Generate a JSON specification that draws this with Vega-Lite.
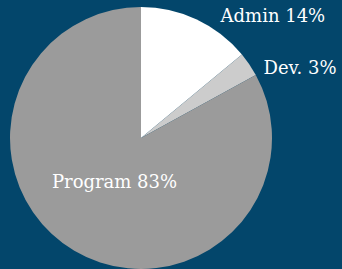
{
  "$schema": "https://vega.github.io/schema/vega-lite/v6.json",
  "width": 282,
  "height": 276,
  "autosize": {"type": "none"},
  "padding": {"left": 0, "top": 0, "right": 60, "bottom": 0},
  "background": "#03466b",
  "config": {"view": {"stroke": null}},
  "data": {
    "values": [
      {"category": "Admin", "value": 14, "label": "Admin 14%"},
      {"category": "Dev.", "value": 3, "label": "Dev. 3%"},
      {"category": "Program", "value": 83, "label": "Program 83%"}
    ]
  },
  "encoding": {
    "theta": {"field": "value", "type": "quantitative", "stack": true},
    "color": {
      "field": "category",
      "type": "nominal",
      "scale": {"domain": ["Admin", "Dev.", "Program"], "range": ["#ffffff", "#cccccc", "#9b9b9b"]},
      "legend": null
    }
  },
  "layer": [
    {"mark": {"type": "arc", "outerRadius": 131}},
    {
      "mark": {"type": "text", "radius": 150, "dx": 68, "dy": 15, "font": "DejaVu Serif", "fontSize": 18, "baseline": "middle", "fill": "#ffffff"},
      "encoding": {
        "color": {"value": "#ffffff"},
        "text": {"condition": {"test": "datum.category === 'Admin'", "field": "label"}, "value": ""}
      }
    },
    {
      "mark": {"type": "text", "radius": 150, "dx": 35, "dy": 15, "font": "DejaVu Serif", "fontSize": 18, "baseline": "middle", "fill": "#ffffff"},
      "encoding": {
        "color": {"value": "#ffffff"},
        "text": {"condition": {"test": "datum.category === 'Dev.'", "field": "label"}, "value": ""}
      }
    },
    {
      "mark": {"type": "text", "radius": 52, "font": "DejaVu Serif", "fontSize": 18, "baseline": "middle", "fill": "#ffffff"},
      "encoding": {
        "color": {"value": "#ffffff"},
        "text": {"condition": {"test": "datum.category === 'Program'", "field": "label"}, "value": ""}
      }
    }
  ]
}
